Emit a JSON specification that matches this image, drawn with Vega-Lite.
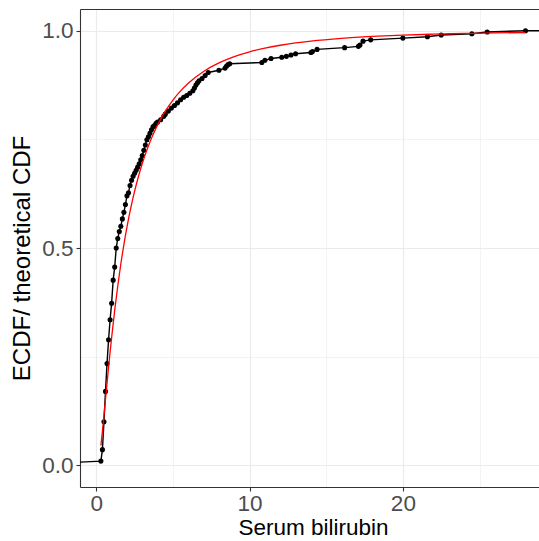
{
  "$schema": "https://vega.github.io/schema/vega-lite/v6.json",
  "autosize": {"type": "none"},
  "padding": {"left": 80, "top": 9, "right": 0, "bottom": 54},
  "width": 459,
  "height": 478,
  "config": {
    "view": {"stroke": null},
    "font": "Liberation Sans",
    "axis": {
      "domainColor": "#333333", "domainWidth": 1.1,
      "tickColor": "#333333", "tickWidth": 1.1, "tickSize": 4,
      "labelFont": "Liberation Sans", "labelColor": "#4D4D4D", "labelFontSize": 22.5, "labelPadding": 3,
      "titleFont": "Liberation Sans", "titleColor": "#000000", "titleFontSize": 22.5, "titleFontWeight": "normal",
      "gridColor": "#EBEBEB"
    }
  },
  "datasets": {
    "ecdf": [
      {"bili": -5, "ecdf": 0},
      {"bili": 0.3, "ecdf": 0.0096}, {"bili": 0.4, "ecdf": 0.036}, {"bili": 0.5, "ecdf": 0.100}, {"bili": 0.6, "ecdf": 0.170},
      {"bili": 0.7, "ecdf": 0.234}, {"bili": 0.8, "ecdf": 0.289}, {"bili": 0.9, "ecdf": 0.335}, {"bili": 1.0, "ecdf": 0.373},
      {"bili": 1.1, "ecdf": 0.426}, {"bili": 1.2, "ecdf": 0.456}, {"bili": 1.3, "ecdf": 0.500}, {"bili": 1.4, "ecdf": 0.522},
      {"bili": 1.5, "ecdf": 0.538}, {"bili": 1.6, "ecdf": 0.550}, {"bili": 1.7, "ecdf": 0.567}, {"bili": 1.8, "ecdf": 0.582},
      {"bili": 1.9, "ecdf": 0.600}, {"bili": 2.0, "ecdf": 0.620}, {"bili": 2.1, "ecdf": 0.627}, {"bili": 2.2, "ecdf": 0.644},
      {"bili": 2.3, "ecdf": 0.656}, {"bili": 2.4, "ecdf": 0.665}, {"bili": 2.5, "ecdf": 0.672}, {"bili": 2.6, "ecdf": 0.679},
      {"bili": 2.7, "ecdf": 0.686}, {"bili": 2.8, "ecdf": 0.694}, {"bili": 2.9, "ecdf": 0.703}, {"bili": 3.0, "ecdf": 0.713},
      {"bili": 3.1, "ecdf": 0.725}, {"bili": 3.2, "ecdf": 0.737}, {"bili": 3.3, "ecdf": 0.749}, {"bili": 3.4, "ecdf": 0.756},
      {"bili": 3.5, "ecdf": 0.764}, {"bili": 3.6, "ecdf": 0.772}, {"bili": 3.7, "ecdf": 0.779}, {"bili": 3.8, "ecdf": 0.782},
      {"bili": 3.9, "ecdf": 0.787}, {"bili": 4.0, "ecdf": 0.790}, {"bili": 4.2, "ecdf": 0.795}, {"bili": 4.4, "ecdf": 0.803},
      {"bili": 4.5, "ecdf": 0.808}, {"bili": 4.7, "ecdf": 0.815}, {"bili": 4.9, "ecdf": 0.822}, {"bili": 5.1, "ecdf": 0.828},
      {"bili": 5.3, "ecdf": 0.834}, {"bili": 5.5, "ecdf": 0.841}, {"bili": 5.7, "ecdf": 0.847}, {"bili": 5.9, "ecdf": 0.851},
      {"bili": 6.1, "ecdf": 0.856}, {"bili": 6.3, "ecdf": 0.862}, {"bili": 6.4, "ecdf": 0.868}, {"bili": 6.5, "ecdf": 0.875},
      {"bili": 6.6, "ecdf": 0.880}, {"bili": 6.7, "ecdf": 0.885}, {"bili": 6.9, "ecdf": 0.890}, {"bili": 7.1, "ecdf": 0.897},
      {"bili": 7.3, "ecdf": 0.904}, {"bili": 8.0, "ecdf": 0.909}, {"bili": 8.4, "ecdf": 0.914}, {"bili": 8.5, "ecdf": 0.919},
      {"bili": 8.6, "ecdf": 0.922}, {"bili": 8.7, "ecdf": 0.924}, {"bili": 10.8, "ecdf": 0.927}, {"bili": 11.0, "ecdf": 0.932},
      {"bili": 11.4, "ecdf": 0.936}, {"bili": 12.1, "ecdf": 0.939}, {"bili": 12.4, "ecdf": 0.941}, {"bili": 12.7, "ecdf": 0.944},
      {"bili": 13.0, "ecdf": 0.947}, {"bili": 14.0, "ecdf": 0.950}, {"bili": 14.1, "ecdf": 0.952}, {"bili": 14.4, "ecdf": 0.957},
      {"bili": 16.2, "ecdf": 0.961}, {"bili": 17.1, "ecdf": 0.964}, {"bili": 17.2, "ecdf": 0.967}, {"bili": 17.4, "ecdf": 0.976},
      {"bili": 17.9, "ecdf": 0.979}, {"bili": 20.0, "ecdf": 0.983}, {"bili": 21.6, "ecdf": 0.986}, {"bili": 22.5, "ecdf": 0.990},
      {"bili": 24.5, "ecdf": 0.993}, {"bili": 25.5, "ecdf": 0.997}, {"bili": 28.0, "ecdf": 1.0},
      {"bili": 40, "ecdf": 1.0}
    ],
    "cdf": [
      {"bili": 0.3, "cdf": 0.0452}, {"bili": 0.4, "cdf": 0.0781}, {"bili": 0.5, "cdf": 0.1142}, {"bili": 0.6, "cdf": 0.1514},
      {"bili": 0.7, "cdf": 0.1885}, {"bili": 0.8, "cdf": 0.2250}, {"bili": 0.9, "cdf": 0.2603}, {"bili": 1.0, "cdf": 0.2939},
      {"bili": 1.2, "cdf": 0.3564}, {"bili": 1.4, "cdf": 0.4126}, {"bili": 1.6, "cdf": 0.4631}, {"bili": 1.8, "cdf": 0.5080},
      {"bili": 2.0, "cdf": 0.5480}, {"bili": 2.25, "cdf": 0.5922}, {"bili": 2.5, "cdf": 0.6307}, {"bili": 2.75, "cdf": 0.6646},
      {"bili": 3.0, "cdf": 0.6944}, {"bili": 3.25, "cdf": 0.7206}, {"bili": 3.5, "cdf": 0.7440}, {"bili": 3.75, "cdf": 0.7647},
      {"bili": 4.0, "cdf": 0.7833}, {"bili": 4.5, "cdf": 0.8149}, {"bili": 5.0, "cdf": 0.8405}, {"bili": 5.5, "cdf": 0.8616},
      {"bili": 6.0, "cdf": 0.8792}, {"bili": 7.0, "cdf": 0.9063}, {"bili": 8.0, "cdf": 0.9259}, {"bili": 9.0, "cdf": 0.9404},
      {"bili": 10, "cdf": 0.9515}, {"bili": 11, "cdf": 0.9600}, {"bili": 12, "cdf": 0.9666}, {"bili": 13, "cdf": 0.9719},
      {"bili": 14, "cdf": 0.9762}, {"bili": 16, "cdf": 0.9825}, {"bili": 18, "cdf": 0.9868}, {"bili": 20, "cdf": 0.9899},
      {"bili": 22, "cdf": 0.9921}, {"bili": 24, "cdf": 0.9937}, {"bili": 26, "cdf": 0.9950}, {"bili": 28, "cdf": 0.9959}
    ]
  },
  "resolve": {"axis": {"x": "independent"}},
  "layer": [
    {
      "data": {"name": "ecdf"},
      "mark": {"type": "line", "color": "#000000", "strokeWidth": 1.4, "clip": true},
      "encoding": {
        "x": {"field": "bili", "type": "quantitative",
              "scale": {"domain": [-1.063, 28.88], "nice": false, "zero": false},
              "axis": {"title": "Serum bilirubin", "values": [0, 5, 10, 15, 20, 25], "labelPadding": 1.5,
                       "labelExpr": "datum.value % 10 == 0 ? format(datum.value, 'd') : ''",
                       "tickColor": {"condition": {"test": "datum.value % 10 != 0", "value": "transparent"}, "value": "#333333"},
                       "gridWidth": {"condition": {"test": "datum.value % 10 != 0", "value": 0.6}, "value": 1.2},
                       "grid": true, "titleX": 233, "titleY": 47.5, "titleBaseline": "alphabetic", "titleAnchor": "middle", "titleAlign": "center"}},
        "y": {"field": "ecdf", "type": "quantitative",
              "scale": {"domain": [-0.05, 1.05], "nice": false, "zero": false},
              "axis": {"title": "ECDF/ theoretical CDF", "values": [0, 0.25, 0.5, 0.75, 1],
                       "labelExpr": "datum.value % 0.5 == 0 ? format(datum.value, '.1f') : ''",
                       "tickColor": {"condition": {"test": "datum.value % 0.5 != 0", "value": "transparent"}, "value": "#333333"},
                       "gridWidth": {"condition": {"test": "datum.value % 0.5 != 0", "value": 0.6}, "value": 1.2},
                       "grid": true, "titleFontSize": 24, "titleX": -58, "titleY": 249, "titleBaseline": "middle", "titleAlign": "center", "titleAngle": -90}}
      }
    },
    {
      "data": {"name": "ecdf"},
      "transform": [{"filter": "datum.bili > 0 && datum.bili < 30"}],
      "mark": {"type": "point", "filled": true, "color": "#000000", "size": 26, "opacity": 1, "clip": true},
      "encoding": {
        "x": {"field": "bili", "type": "quantitative",
              "axis": {"orient": "top", "labels": false, "ticks": false, "grid": false, "title": null, "domain": true}},
        "y": {"field": "ecdf", "type": "quantitative"}
      }
    },
    {
      "data": {"name": "cdf"},
      "mark": {"type": "line", "color": "#FF0000", "strokeWidth": 1.3, "interpolate": "monotone", "clip": true},
      "encoding": {
        "x": {"field": "bili", "type": "quantitative", "axis": null},
        "y": {"field": "cdf", "type": "quantitative"}
      }
    }
  ]
}
